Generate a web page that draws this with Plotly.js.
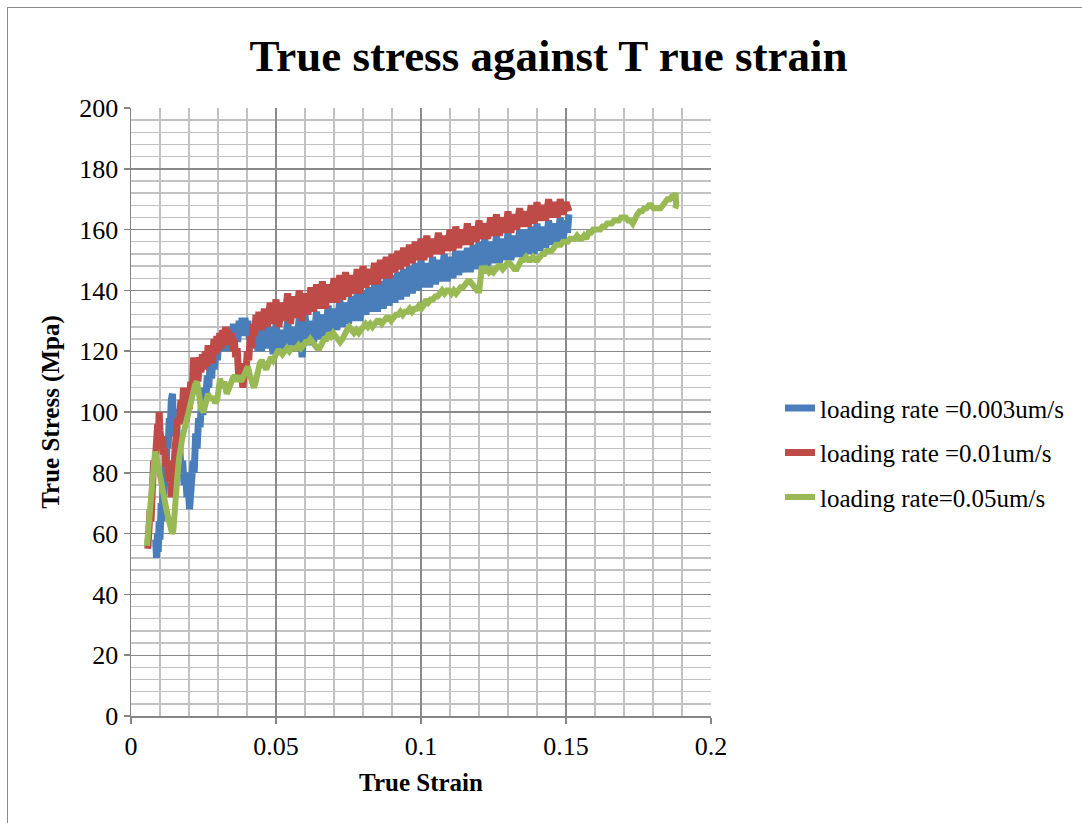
<!DOCTYPE html>
<html>
<head>
<meta charset="utf-8">
<script src="https://cdn.plot.ly/plotly-3.0.1.min.js"></script>
<style>
  html, body { margin: 0; padding: 0; background: #fff; overflow: hidden; }
  #chart { position: absolute; left: 0; top: 0; width: 1082px; height: 823px; }
  #frame { position: absolute; left: 7px; top: 7px; width: 1200px; height: 1000px;
           border: 1px solid #8a8a8a; pointer-events: none; }
</style>
</head>
<body>
<div id="chart"></div>
<div id="frame"></div>
<script>
// ---- data (strain, stress MPa) ----
const seriesNames = ['loading rate =0.003um/s', 'loading rate =0.01um/s', 'loading rate=0.05um/s'];
const seriesColors = ['#4A7EBB', '#BE4B48', '#98B954'];
const xTickVals = [0, 0.05, 0.1, 0.15, 0.2];
const xTickText = ['0', '0.05', '0.1', '0.15', '0.2'];
const yTickVals = [0, 20, 40, 60, 80, 100, 120, 140, 160, 180, 200];
const yTickText = ['0', '20', '40', '60', '80', '100', '120', '140', '160', '180', '200'];

const rate0003 = [
[0.0085,58],[0.0088,52],[0.0091,60],[0.0094,54],[0.0097,64],[0.0100,58],
[0.0104,70],[0.0107,64],[0.0111,78],[0.0114,72],[0.0118,86],[0.0121,80],
[0.0125,92],[0.0128,88],[0.0132,98],[0.0135,94],[0.0139,104],[0.0143,106],
[0.0146,98],[0.0150,101],[0.0154,92],[0.0158,95],[0.0163,86],[0.0168,89],
[0.0173,80],[0.0178,84],[0.0183,76],[0.0188,80],[0.0193,72],[0.0198,74],
[0.0202,68],[0.0206,74],[0.0210,72],[0.0214,84],[0.0218,80],[0.0223,93],
[0.0228,88],[0.0233,98],[0.0238,95],[0.0243,103],[0.0248,99],[0.0253,108],[0.0258,104],[0.0263,112],[0.0268,108],[0.0273,116],
[0.0278,111],[0.0283,119],[0.0288,114],[0.0293,122],[0.0298,117],[0.0303,125],[0.0308,120],[0.0313,126],[0.0318,121],[0.0323,127],
[0.0328,120],[0.0333,126],[0.0338,121],[0.0343,128],[0.0348,123],[0.0353,129],[0.0358,124],[0.0363,128],[0.0368,123],[0.0373,130],
[0.0378,125],[0.0383,131],[0.0388,126],[0.0393,131],[0.0398,125],[0.0403,130],[0.0408,124],[0.0413,128],[0.0418,122],[0.0423,127],
[0.0428,121],[0.0433,128],[0.0438,120],[0.0443,128],
[0.045,120],[0.046,129],[0.047,121],[0.048,128],[0.049,119],[0.050,129],[0.051,121],[0.052,127],[0.053,120],[0.054,130],
[0.055,122],[0.056,128],[0.057,121],[0.058,131],[0.059,118],[0.060,132],[0.061,122],[0.062,130],[0.063,123],[0.064,133],
[0.065,124],[0.066,132],[0.067,125],[0.068,135],[0.069,126],[0.070,134],[0.071,127],[0.072,137],[0.073,128],[0.074,136],
[0.075,129],[0.076,138],[0.077,130],[0.078,139],[0.079,130],[0.080,140],[0.081,132],[0.082,141],[0.083,133],[0.084,142],
[0.085,133],[0.086,143],[0.087,134],[0.088,144],[0.089,135],[0.090,145],[0.091,136],[0.092,146],[0.093,137],[0.094,147],
[0.095,138],[0.096,148],[0.097,139],[0.098,149],[0.099,140],[0.100,150],[0.101,141],[0.102,149],[0.103,141],[0.104,151],
[0.105,142],[0.106,150],[0.107,143],[0.108,152],[0.109,143],[0.110,151],[0.111,144],[0.112,153],[0.113,145],[0.114,153],
[0.115,146],[0.116,154],[0.117,146],[0.118,155],[0.119,147],[0.120,156],[0.121,147],[0.122,157],[0.123,148],[0.124,156],
[0.125,149],[0.126,158],[0.127,149],[0.128,157],[0.129,150],[0.130,159],[0.131,150],[0.132,158],[0.133,151],[0.134,160],
[0.135,151],[0.136,160],[0.137,152],[0.138,161],[0.139,152],[0.140,162],[0.141,153],[0.142,161],[0.143,154],[0.144,163],
[0.145,155],[0.146,162],[0.147,156],[0.148,164],[0.149,157],[0.150,163],[0.1505,159],[0.151,165]
];

const rate001 = [
[0.0058,55],[0.0060,62],[0.0063,57],[0.0066,68],[0.0069,64],[0.0072,76],[0.0075,72],[0.0078,84],[0.0081,80],[0.0085,90],
[0.0088,86],[0.0092,96],[0.0095,93],[0.0097,100],[0.0100,94],[0.0104,90],[0.0108,92],[0.0112,86],[0.0116,88],[0.0120,82],
[0.0125,84],[0.0130,77],[0.0135,80],[0.0140,72],[0.0144,80],[0.0148,86],[0.0152,90],[0.0157,94],[0.0162,98],[0.0167,96],
[0.0172,104],[0.0177,101],[0.0181,108],[0.0186,103],[0.0191,97],[0.0196,104],[0.0201,101],[0.0206,110],[0.0211,106],[0.0216,118],
[0.0221,112],[0.0226,117],[0.0231,110],[0.0236,118],[0.0241,113],[0.0246,119],[0.0251,114],[0.0256,120],[0.0261,115],[0.0266,122],
[0.0271,117],[0.0276,121],[0.0281,116],[0.0286,124],[0.0291,119],[0.0296,125],[0.0301,120],[0.0306,126],[0.0311,121],[0.0316,127],
[0.0321,122],[0.0326,128],[0.0331,123],[0.0336,127],[0.0341,122],[0.0346,126],[0.0351,120],[0.0356,124],[0.0361,118],[0.0366,121],
[0.0371,112],[0.0376,116],[0.0381,110],[0.0386,108],[0.0391,114],[0.0396,112],[0.0401,120],[0.0406,117],[0.0411,125],[0.0416,121],
[0.0421,129],[0.0426,125],[0.0431,132],[0.0436,127],[0.0441,133],[0.0446,128],
[0.045,127],[0.046,134],[0.047,128],[0.048,136],[0.049,129],[0.050,137],[0.051,128],[0.052,136],[0.053,130],[0.054,139],
[0.055,129],[0.056,138],[0.057,131],[0.058,140],[0.059,130],[0.060,139],[0.061,132],[0.062,141],[0.063,133],[0.064,142],
[0.065,134],[0.066,143],[0.067,134],[0.068,142],[0.069,136],[0.070,144],[0.071,136],[0.072,145],[0.073,137],[0.074,146],
[0.075,138],[0.076,145],[0.077,139],[0.078,147],[0.079,139],[0.080,148],[0.081,141],[0.082,147],[0.083,142],[0.084,149],
[0.085,142],[0.086,150],[0.087,144],[0.088,151],[0.089,144],[0.090,152],[0.091,146],[0.092,153],[0.093,147],[0.094,154],
[0.095,148],[0.096,155],[0.097,149],[0.098,156],[0.099,150],[0.100,157],[0.101,150],[0.102,158],[0.103,151],[0.104,157],
[0.105,152],[0.106,159],[0.107,152],[0.108,158],[0.109,153],[0.110,160],[0.111,153],[0.112,161],[0.113,154],[0.114,160],
[0.115,155],[0.116,162],[0.117,155],[0.118,161],[0.119,156],[0.120,163],[0.121,157],[0.122,162],[0.123,157],[0.124,164],
[0.125,158],[0.126,165],[0.127,158],[0.128,164],[0.129,159],[0.130,166],[0.131,159],[0.132,165],[0.133,160],[0.134,167],
[0.135,161],[0.136,166],[0.137,161],[0.138,168],[0.139,162],[0.140,169],[0.141,163],[0.142,168],[0.143,163],[0.144,170],
[0.145,164],[0.146,169],[0.147,164],[0.148,170],[0.149,165],[0.150,169],[0.151,166]
];

const rate005 = [
[0.0055,56],[0.0058,60],[0.0061,64],[0.0064,67],[0.0067,72],[0.0070,76],[0.0074,80],[0.0078,84],[0.0083,87],[0.0088,85],
[0.0093,82],[0.0098,80],[0.0103,77],[0.0108,75],[0.0113,72],[0.0118,70],[0.0124,67],[0.0130,64],[0.0136,62],[0.0142,60],
[0.0146,61],[0.0150,68],[0.0155,74],[0.0160,79],[0.0166,85],[0.0172,90],[0.0178,92],[0.0186,95],[0.0193,98],[0.0200,101],
[0.0207,104],[0.0214,107],[0.0221,109],[0.0228,110],[0.0235,104],[0.0242,101],[0.0250,100],[0.0258,104],[0.0266,106],[0.0274,104],
[0.0282,105],[0.0290,103],[0.0297,104],[0.0303,108],[0.0307,111],[0.0315,108],[0.0322,110],[0.0330,106],[0.0336,107],[0.0343,109],
[0.0350,111],[0.0358,112],[0.0365,110],[0.0372,112],[0.0380,110],[0.0388,112],[0.0396,114],[0.0403,115],[0.0410,112],[0.0417,110],
[0.0424,108],[0.0430,110],[0.0437,114],[0.0444,116],[0.0451,117],[0.0458,116],[0.0466,114],[0.0474,116],[0.0482,118],[0.0490,117],
[0.0498,119],[0.0506,120],[0.0514,120],[0.0522,119],[0.0530,120],[0.0538,121],[0.0546,120],[0.0554,121],[0.0562,121],[0.0570,121],
[0.0578,122],[0.0586,121],[0.0594,122],[0.0602,123],[0.0610,123],[0.0618,124],[0.0626,123],[0.0634,122],[0.0642,121],[0.0650,121],
[0.0658,123],[0.0666,124],[0.0674,124],[0.0682,126],[0.0690,125],[0.0697,126],[0.0705,125],[0.0713,124],[0.0721,123],[0.0729,124],
[0.0737,126],[0.0745,127],[0.0753,128],[0.0761,127],[0.0769,126],[0.0777,127],[0.0785,126],[0.0793,127],[0.0801,128],[0.0809,129],
[0.0817,128],[0.0825,129],[0.0833,128],[0.0841,129],[0.0849,130],[0.0857,130],[0.0865,129],[0.0873,130],[0.0881,131],[0.0889,131],
[0.0897,130],[0.0905,131],[0.0913,132],[0.0921,132],[0.0929,133],[0.0937,132],[0.0945,133],[0.0953,133],[0.0961,134],[0.0969,133],
[0.0977,134],[0.0985,134],[0.0993,135],[0.1001,134],[0.1009,135],[0.1017,137],[0.1025,136],[0.1033,137],[0.1041,137],[0.1049,138],
[0.1057,138],[0.1065,139],[0.1073,140],[0.1081,139],[0.1089,140],[0.1097,140],[0.1105,139],[0.1113,140],[0.1121,139],[0.1129,140],
[0.1137,141],[0.1145,141],[0.1153,142],[0.1161,143],[0.1169,143],[0.1177,142],[0.1185,141],[0.1193,140],[0.1201,140],[0.1206,145],
[0.1210,148],[0.1218,146],[0.1226,147],[0.1234,146],[0.1242,147],[0.1250,146],[0.1258,147],[0.1266,148],[0.1274,148],[0.1282,147],
[0.1290,148],[0.1298,149],[0.1306,149],[0.1314,148],[0.1322,147],[0.1330,147],[0.1338,149],[0.1346,150],[0.1354,150],[0.1362,151],
[0.1370,150],[0.1378,150],[0.1386,151],[0.1394,150],[0.1402,150],[0.1410,151],[0.1418,152],[0.1426,152],[0.1434,153],[0.1442,153],
[0.1450,153],[0.1458,154],[0.1466,155],[0.1474,155],[0.1482,155],[0.1490,156],[0.1498,156],[0.1506,156],[0.1514,157],[0.1522,157],
[0.1530,157],[0.1538,158],[0.1546,157],[0.1554,157],[0.1562,158],[0.1570,157],[0.1578,159],[0.1586,159],[0.1594,160],[0.1602,160],
[0.1610,160],[0.1618,160],[0.1626,161],[0.1634,161],[0.1642,162],[0.1650,162],[0.1658,162],[0.1666,163],[0.1674,163],[0.1682,163],
[0.1690,164],[0.1698,164],[0.1706,164],[0.1714,163],[0.1722,163],[0.1730,162],[0.1738,164],[0.1746,165],[0.1754,166],[0.1762,166],
[0.1770,167],[0.1778,167],[0.1786,168],[0.1794,168],[0.1802,167],[0.1810,167],[0.1818,167],[0.1826,167],[0.1834,168],[0.1842,169],
[0.1850,170],[0.1858,170],[0.1866,171],[0.1874,171],[0.1878,172],[0.1880,168],[0.1876,167]
];

const allSeries = [rate0003, rate001, rate005];
const groups = ['g1', 'g2', 'g3'];
const widths = [7, 7, 6];

const serif = 'Liberation Serif, "Times New Roman", Times, serif';

const traces = allSeries.map((s, i) => ({
  type: 'scatter',
  mode: 'lines',
  name: seriesNames[i],
  legendgroup: groups[i],
  x: s.map(p => p[0]),
  y: s.map(p => p[1]),
  line: { color: seriesColors[i], width: widths[i] },
  hoverinfo: 'skip'
}));

const layout = {
  width: 1082,
  height: 823,
  margin: { l: 131, r: 371, t: 108, b: 107 },
  paper_bgcolor: '#ffffff',
  plot_bgcolor: '#ffffff',
  showlegend: true,
  title: {
    text: '<b>True stress against T rue strain</b>',
    font: { family: serif, size: 45, color: '#000000' },
    x: 0.507, xanchor: 'center',
    yref: 'container', y: 0.933, yanchor: 'middle'
  },
  xaxis: {
    range: [0, 0.2],
    tickmode: 'array',
    tickvals: xTickVals,
    ticktext: xTickText,
    showgrid: true,
    gridcolor: '#8a8a8a',
    gridwidth: 1.4,
    minor: { dtick: 0.01, tick0: 0, showgrid: true, gridcolor: '#c2c2c2', gridwidth: 1.4, ticks: '' },
    showline: true,
    linecolor: '#868686',
    linewidth: 1.5,
    ticks: 'outside',
    ticklen: 6,
    tickwidth: 1.5,
    tickcolor: '#868686',
    zeroline: false,
    tickfont: { family: serif, size: 26, color: '#000000' },
    title: { text: '<b>True Strain</b>', font: { family: serif, size: 25, color: '#000000' }, standoff: 14 }
  },
  yaxis: {
    range: [0, 200],
    tickmode: 'array',
    tickvals: yTickVals,
    ticktext: yTickText,
    showgrid: true,
    gridcolor: '#8a8a8a',
    gridwidth: 1.4,
    minor: { dtick: 4, tick0: 0, showgrid: true, gridcolor: '#c2c2c2', gridwidth: 1.4, ticks: '' },
    showline: true,
    linecolor: '#868686',
    linewidth: 1.5,
    ticks: 'outside',
    ticklen: 6,
    tickwidth: 1.5,
    tickcolor: '#868686',
    zeroline: false,
    tickfont: { family: serif, size: 26, color: '#000000' },
    title: { text: '<b>True Stress (Mpa)</b>', font: { family: serif, size: 25, color: '#000000' }, standoff: 12 }
  },
  legend: {
    x: 1.119, xanchor: 'left',
    y: 0.433, yanchor: 'middle',
    font: { family: serif, size: 25, color: '#000000' },
    bgcolor: 'rgba(0,0,0,0)',
    traceorder: 'grouped',
    tracegroupgap: 9
  }
};

Plotly.newPlot('chart', traces, layout, { displayModeBar: false, staticPlot: true });
</script>
</body>
</html>
